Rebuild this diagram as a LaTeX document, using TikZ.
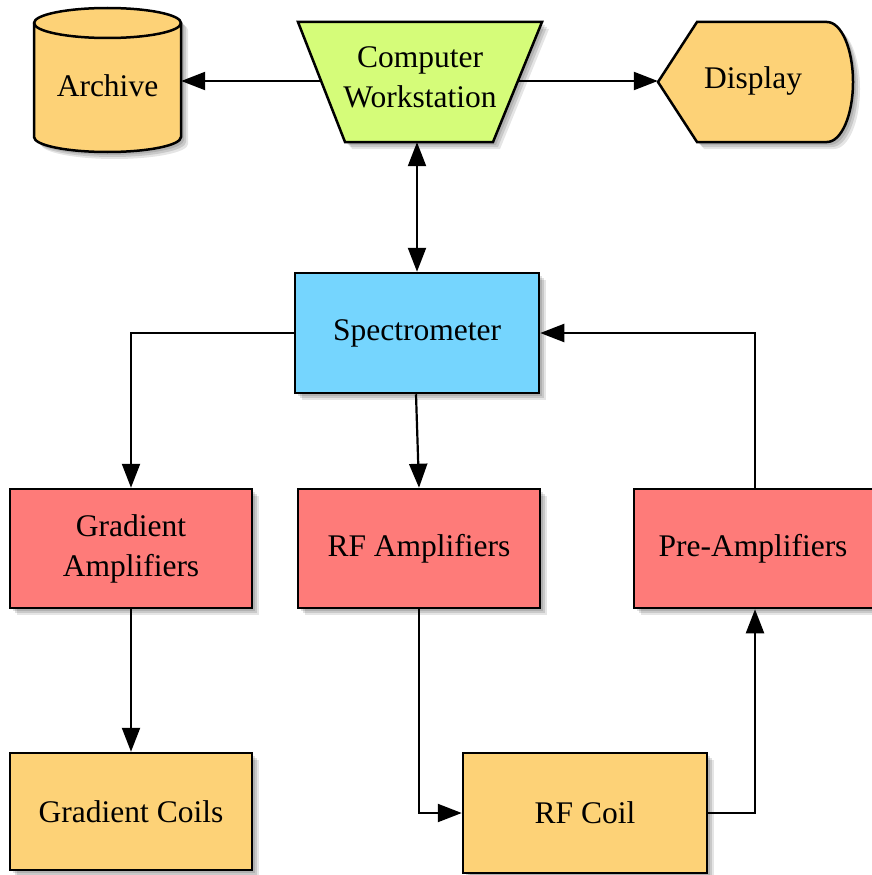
\documentclass[tikz,border=0pt]{standalone}
\usepackage{fontspec}
\setmainfont{Liberation Serif}
\usetikzlibrary{shadows,arrows.meta}
\definecolor{orangefill}{HTML}{FDD277}
\definecolor{greenfill}{HTML}{D5FC79}
\definecolor{bluefill}{HTML}{75D5FE}
\definecolor{redfill}{HTML}{FE7B79}
\begin{document}
\begin{tikzpicture}[x=1pt,y=-1pt,
  every node/.style={font=\fontsize{31.5}{40}\selectfont, align=center},
  shapeline/.style={line width=2.5pt, draw=black, line join=miter},
  shd/.style={
    drop shadow={shadow xshift=3pt, shadow yshift=-3pt, fill=black, opacity=0.12},
    drop shadow={shadow xshift=5pt, shadow yshift=-5pt, fill=black, opacity=0.12},
    drop shadow={shadow xshift=7pt, shadow yshift=-7pt, fill=black, opacity=0.1}},
  box/.style={rectangle, shapeline, shd, minimum width=242pt, minimum height=119pt, inner sep=0pt},
  ghost/.style={rectangle, inner sep=0pt},
  conn/.style={line width=2.2pt, -{Triangle[length=24pt,width=18pt]}},
  dconn/.style={line width=2.2pt, {Triangle[length=24pt,width=18pt]}-{Triangle[length=24pt,width=18pt]}},
]
\useasboundingbox (0,0) rectangle (872,875);

% Archive cylinder
\path[shapeline, fill=orangefill, shd] (34,23) -- (34,137)
  arc[start angle=180, end angle=360, x radius=73.5pt, y radius=15pt]
  -- (181,23)
  arc[start angle=0, end angle=180, x radius=73.5pt, y radius=15pt] -- cycle;
\draw[line width=2.5pt] (34,23) arc[start angle=180, end angle=360, x radius=73.5pt, y radius=15pt];
\node[ghost, minimum width=147pt, minimum height=144pt] (archive) at (107.5,80) {};
\node (archivetext) at (107.5,86) {Archive};

% Computer Workstation trapezoid
\path[shapeline, fill=greenfill, shd] (298,22) -- (542,22) -- (493,142) -- (345,142) -- cycle;
\node[ghost, minimum width=244pt, minimum height=120pt] (ws) at (420,82) {};
\node (wstext) at (420,77) {Computer\\Workstation};
\coordinate (wsL) at (321,81);
\coordinate (wsR) at (519,81);

% Display
\path[shapeline, fill=orangefill, shd] (658,82) -- (697,22) -- (827,22)
  arc[start angle=90, end angle=-90, x radius=26pt, y radius=60pt]
  -- (697,142) -- cycle;
\node[ghost, minimum width=195pt, minimum height=120pt] (display) at (755.5,82) {};
\node (displaytext) at (753,81) {Display};

% Rectangles
\node[box, fill=bluefill, minimum width=244pt, minimum height=120pt] (spec) at (417,333) {Spectrometer};
\node[box, fill=redfill] (gamp) at (131,548.5) {Gradient\\Amplifiers};
\node[box, fill=redfill] (rfamp) at (419,548.5) {RF Amplifiers};
\node[box, fill=redfill] (preamp) at (755,548.5) {\hspace*{-4pt}Pre-Amplifiers};
\node[box, fill=orangefill, minimum height=117pt] (gcoil) at (131,811.5) {Gradient Coils};
\node[box, fill=orangefill, minimum width=244pt, minimum height=120pt] (rfcoil) at (585,813) {RF Coil};

% Connectors
\draw[conn] (wsL) -- (archive.east |- wsL);
\draw[conn] (wsR) -- (display.west |- wsR);
\draw[dconn] (spec.north |- ws.south) -- (spec.north);
\draw[conn] (spec.west) -| (gamp.north);
\draw[conn] ([xshift=-1pt]spec.south) -- (rfamp.north);
\draw[conn] (preamp.north) |- (spec.east);
\draw[conn] (gamp.south) -- (gcoil.north);
\draw[conn] (rfamp.south) |- (rfcoil.west);
\draw[conn] (rfcoil.east) -| (preamp.south);
\end{tikzpicture}
\end{document}
